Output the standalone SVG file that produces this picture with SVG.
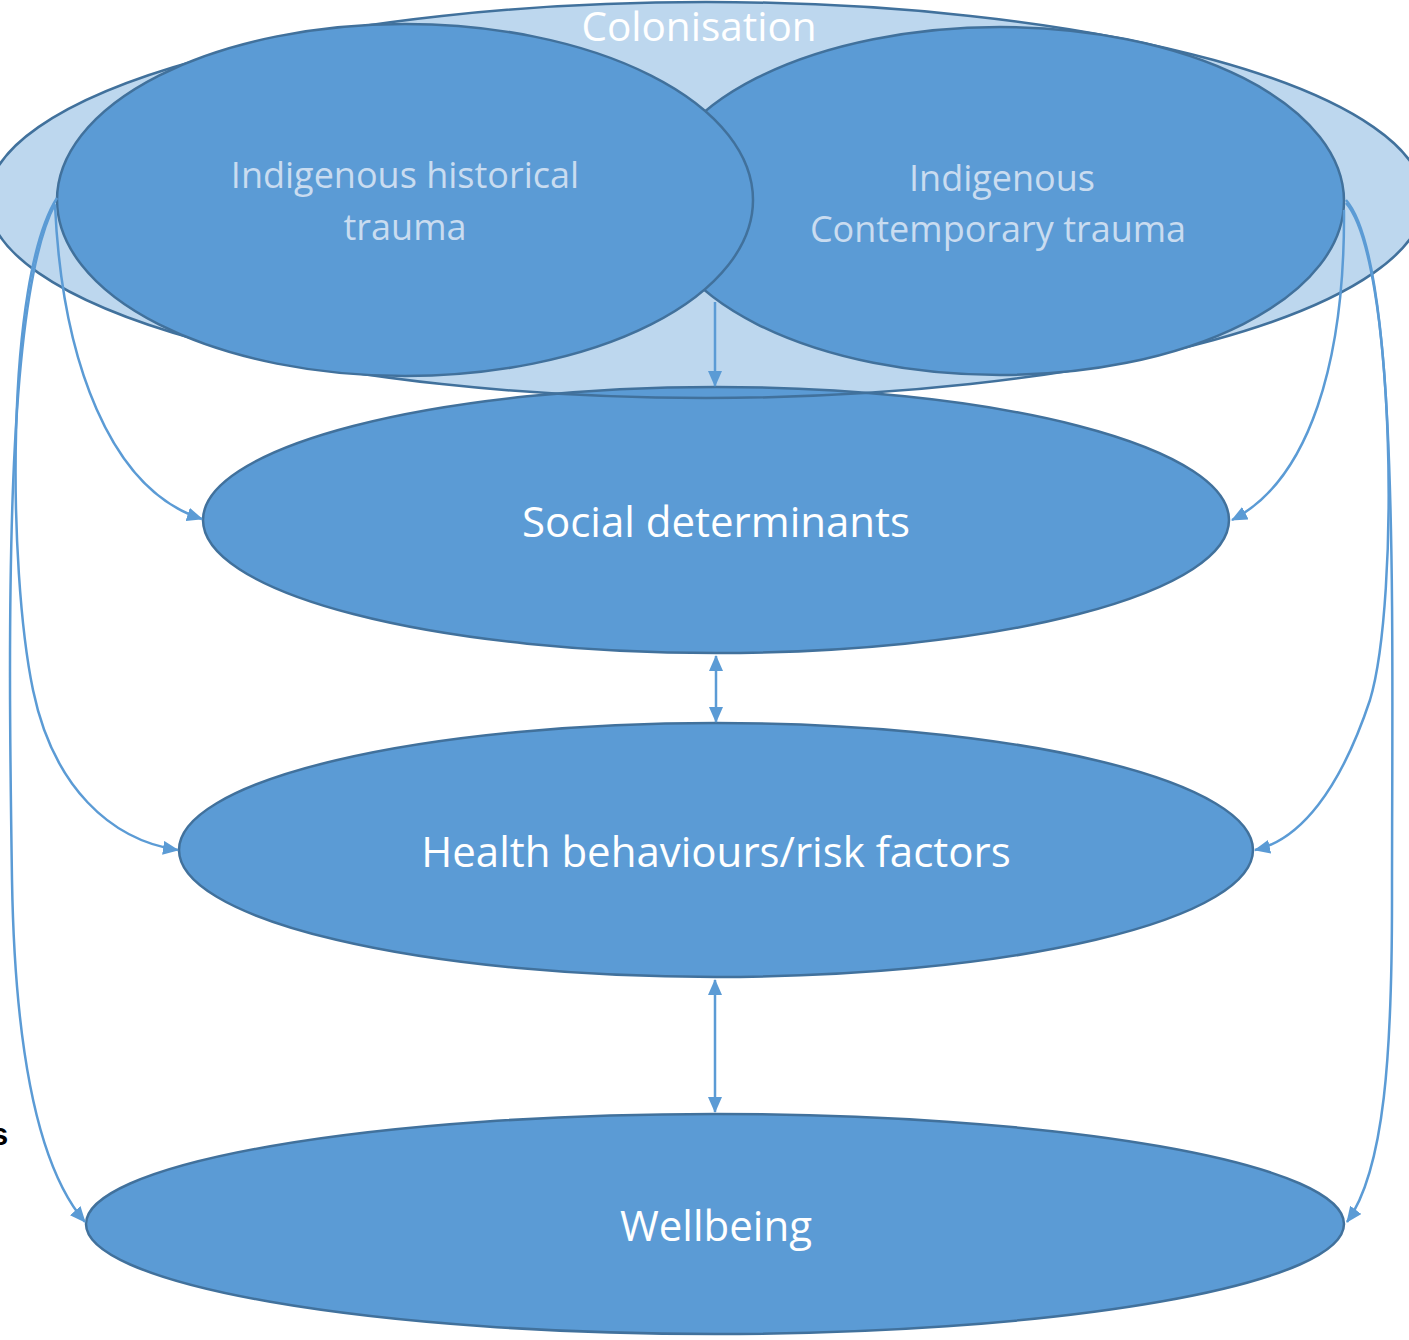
<svg xmlns="http://www.w3.org/2000/svg" width="1409" height="1340" viewBox="0 0 1409 1340">
  <style>
    .node { fill: #5b9bd5; stroke: #41719c; stroke-width: 2.5; }
    .outer { fill: #bdd7ee; }
    .outline { fill: none; stroke: #41719c; stroke-width: 2.5; }
    .label { font-family: "Open Sans", "Liberation Sans", sans-serif; fill: #ffffff; text-anchor: middle; }
    .soft { fill: #c9dcf0; }
    .link { fill: none; stroke: #5b9bd5; stroke-width: 2.5; }
  </style>
  <defs>
    <marker id="arrow" markerUnits="userSpaceOnUse" markerWidth="16" markerHeight="14" refX="15" refY="7" orient="auto-start-reverse">
      <path d="M0,0 L16,7 L0,14 Z" fill="#5b9bd5"/>
    </marker>
  </defs>

  <rect width="1409" height="1340" fill="#ffffff"/>

  <!-- Colonisation: outer context ellipse -->
  <g id="colonisation">
    <ellipse class="outer" cx="706" cy="200" rx="718" ry="198"/>
  </g>

  <!-- Social determinants -->
  <g id="social-determinants">
    <ellipse class="node" cx="716" cy="520" rx="513" ry="133"/>
    <text class="label" x="716" y="537" font-size="42">Social determinants</text>
  </g>

  <!-- outline of the colonisation ellipse, drawn over the social determinants rim -->
  <ellipse class="outline" cx="706" cy="200" rx="718" ry="198"/>

  <!-- Indigenous contemporary trauma -->
  <g id="contemporary-trauma">
    <ellipse class="node" cx="1000" cy="201" rx="344" ry="174"/>
    <text class="label soft" x="1002" y="191" font-size="36">Indigenous</text>
    <text class="label soft" x="998" y="242" font-size="36">Contemporary trauma</text>
  </g>

  <!-- Indigenous historical trauma -->
  <g id="historical-trauma">
    <ellipse class="node" cx="405" cy="200" rx="348" ry="176"/>
    <text class="label soft" x="405" y="188" font-size="36">Indigenous historical</text>
    <text class="label soft" x="405" y="240" font-size="36">trauma</text>
  </g>

  <text class="label" x="699" y="41" font-size="40.5">Colonisation</text>

  <!-- Health behaviours/risk factors -->
  <g id="health-behaviours">
    <ellipse class="node" cx="716" cy="850" rx="537" ry="127"/>
    <text class="label" x="716" y="867" font-size="42">Health behaviours/risk factors</text>
  </g>

  <!-- Wellbeing -->
  <g id="wellbeing">
    <ellipse class="node" cx="715" cy="1224" rx="629" ry="110"/>
    <text class="label" x="716" y="1241" font-size="42">Wellbeing</text>
  </g>

  <!-- fragment of a label running off the left margin -->
  <text x="-9" y="1145" font-family="'Liberation Sans', sans-serif" font-size="31" font-weight="bold" fill="#000000">s</text>

  <!-- Connectors -->
  <g id="connectors">
    <!-- central chain -->
    <path class="link" d="M715,302 L715,386" marker-end="url(#arrow)"/>
    <path class="link" d="M716,656 L716,722" marker-start="url(#arrow)" marker-end="url(#arrow)"/>
    <path class="link" d="M715,980 L715,1112" marker-start="url(#arrow)" marker-end="url(#arrow)"/>

    <!-- historical trauma to each level -->
    <path class="link" d="M55,205 C62,360 110,490 202,519" marker-end="url(#arrow)"/>
    <path class="link" d="M57,198 C5,280 8,570 33,690 C53,786 110,840 178,850" marker-end="url(#arrow)"/>
    <path class="link" d="M55,204 C5,300 8,620 12,880 C15,1060 40,1170 85,1222" marker-end="url(#arrow)"/>

    <!-- contemporary trauma to each level -->
    <path class="link" d="M1344,210 C1345,360 1310,480 1232,520" marker-end="url(#arrow)"/>
    <path class="link" d="M1346,203 C1395,260 1400,600 1370,700 C1340,790 1300,840 1255,850" marker-end="url(#arrow)"/>
    <path class="link" d="M1346,200 C1400,260 1392,620 1392,900 C1392,1050 1385,1170 1347,1222" marker-end="url(#arrow)"/>
  </g>
</svg>
